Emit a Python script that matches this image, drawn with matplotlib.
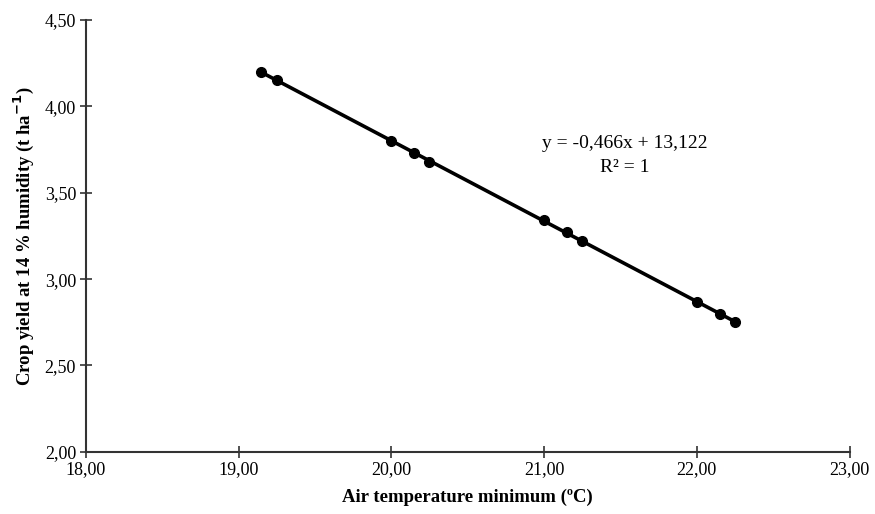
import matplotlib.pyplot as plt
import numpy as np

plt.rcParams['font.family'] = ['Liberation Serif', 'DejaVu Serif']

# Data
temp_min = [19.15, 19.25, 20.00, 20.15, 20.25, 21.00, 21.15, 21.25, 22.00, 22.15, 22.25]
crop_yield = [4.20, 4.15, 3.80, 3.73, 3.68, 3.34, 3.27, 3.22, 2.87, 2.80, 2.75]
x_ticks = [18, 19, 20, 21, 22, 23]
y_ticks = [2.0, 2.5, 3.0, 3.5, 4.0, 4.5]

fig = plt.figure(figsize=(8.75, 5.14), dpi=100)
ax = fig.add_axes([0.098, 0.121, 0.873, 0.840])

# Linear trendline through the points
coef = np.polyfit(temp_min, crop_yield, 1)
xs = np.array([min(temp_min), max(temp_min)])
ax.plot(xs, np.polyval(coef, xs), color='black', linewidth=2.6, zorder=2)
ax.plot(temp_min, crop_yield, 'o', color='black', markersize=7, zorder=3)

ax.text(21.53, 3.785, 'y = -0,466x + 13,122', ha='center', va='center', fontsize=14)
ax.text(21.53, 3.645, 'R² = 1', ha='center', va='center', fontsize=14)

ax.set_xlim(18, 23)
ax.set_ylim(2, 4.5)
ax.set_xticks(x_ticks)
ax.set_yticks(y_ticks)
ax.set_xticklabels([f'{v:.2f}'.replace('.', ',') for v in x_ticks], fontsize=13)
ax.set_yticklabels([f'{v:.2f}'.replace('.', ',') for v in y_ticks], fontsize=13)
ax.tick_params(direction='inout', length=8, width=1.2, color='#333333', pad=3)

for s in ['top', 'right']:
    ax.spines[s].set_visible(False)
for s in ['left', 'bottom']:
    ax.spines[s].set_linewidth(1.5)
    ax.spines[s].set_color('#333333')

ax.set_xlabel('Air temperature minimum (ºC)', fontsize=13.5, fontweight='bold', labelpad=7)
ax.set_ylabel('Crop yield at 14 % humidity (t ha$^{\\mathbf{-1}}$)', fontsize=13.5, fontweight='bold', labelpad=6)

plt.savefig('out.png', dpi=100)
